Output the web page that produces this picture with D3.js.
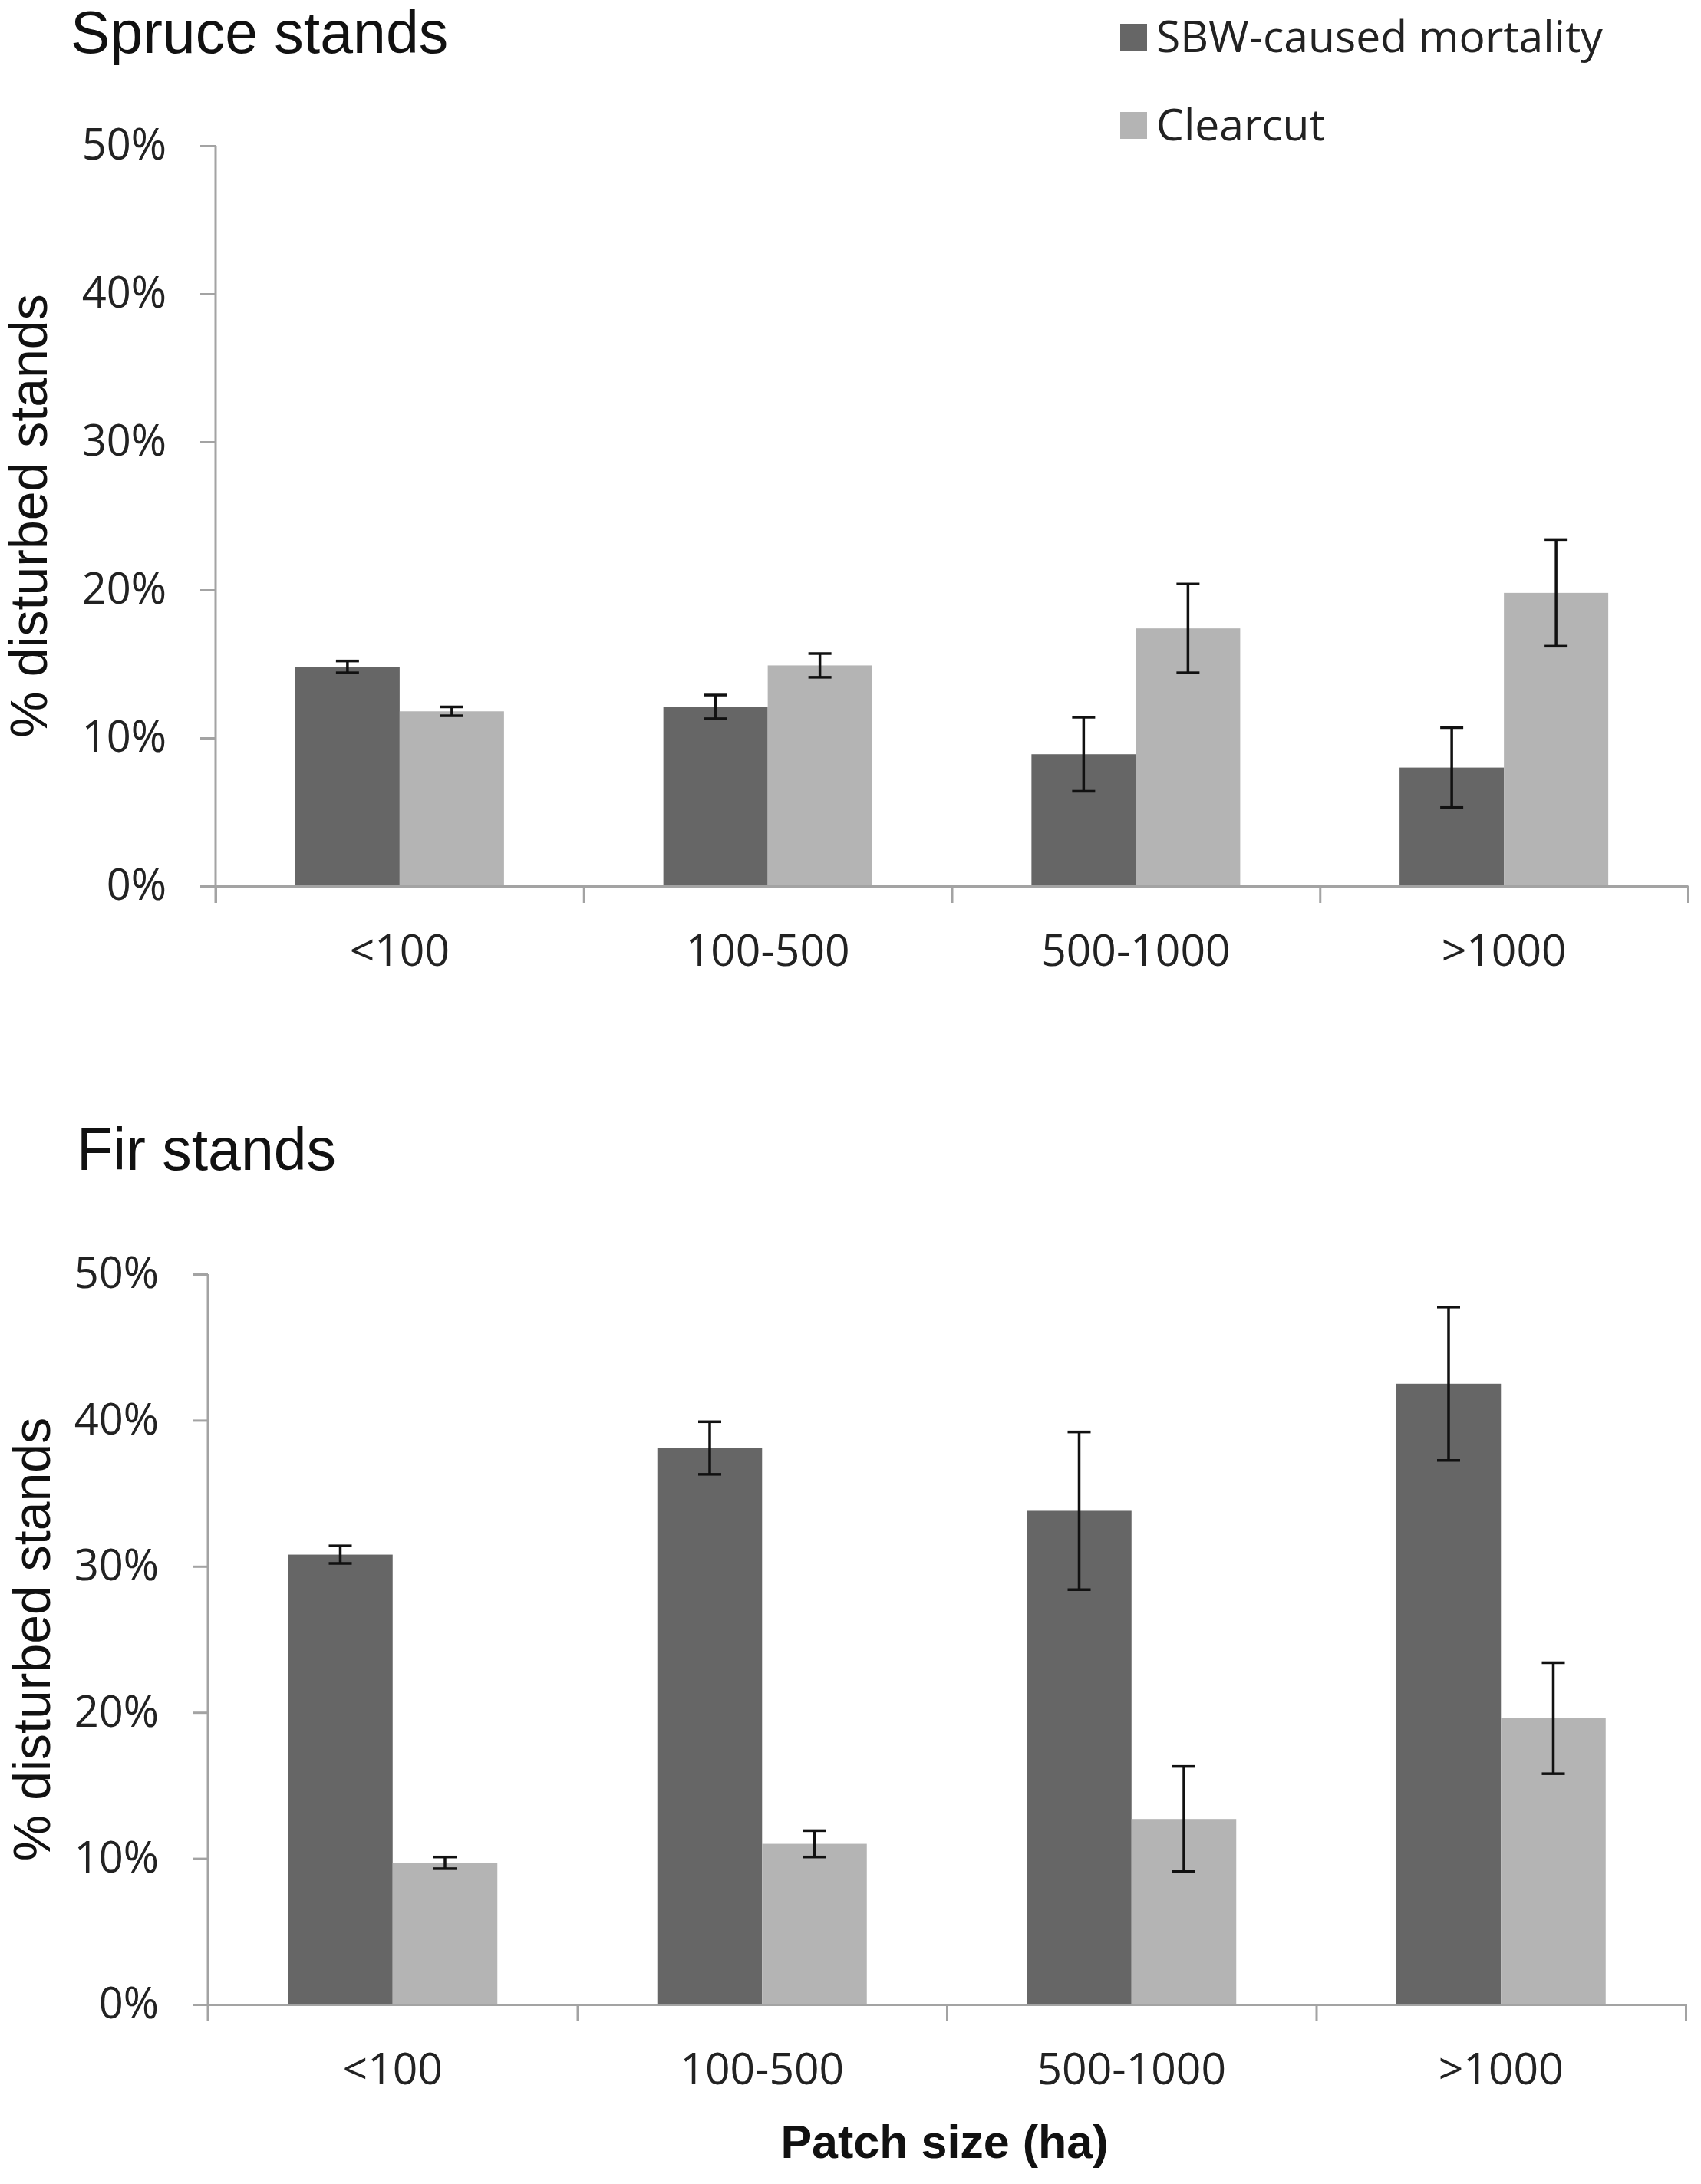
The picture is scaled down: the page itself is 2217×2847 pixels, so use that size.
<!DOCTYPE html>
<html>
<head>
<meta charset="utf-8">
<script src="https://cdn.jsdelivr.net/npm/d3@7/dist/d3.min.js"></script>
<style>
  html, body { margin: 0; padding: 0; background: #ffffff; }
  svg { display: block; }
</style>
</head>
<body>
<svg id="chart" width="2217" height="2847"></svg>
<script>
// ---------------- DATA ----------------
const categories = ["<100", "100-500", "500-1000", ">1000"];
const seriesNames = ["SBW-caused mortality", "Clearcut"];
const yTicks = [0, 10, 20, 30, 40, 50];

const spruceSBW      = [14.8, 12.1, 8.9, 8.0];
const spruceSBWErr   = [0.4, 0.8, 2.5, 2.7];
const spruceClear    = [11.8, 14.9, 17.4, 19.8];
const spruceClearErr = [0.3, 0.8, 3.0, 3.6];

const firSBW      = [30.8, 38.1, 33.8, 42.5];
const firSBWErr   = [0.6, 1.8, 5.4, 5.25];
const firClear    = [9.7, 11.0, 12.7, 19.6];
const firClearErr = [0.4, 0.9, 3.6, 3.8];

const panelTitles = ["Spruce stands", "Fir stands"];
const yAxisTitle = "% disturbed stands";
const xAxisTitle = "Patch size (ha)";

// ---------------- STYLE / LAYOUT ----------------
const colors = ["#666666", "#b4b4b4"];
const axisColor = "#a3a3a3";
const textColor = "#222222";

const panels = [
  { title: panelTitles[0], series: [spruceSBW, spruceClear], errs: [spruceSBWErr, spruceClearErr],
    x0: 281, x1: 2200, yBottom: 1155, yTop: 190, titleX: 92, titleY: 69, yLabelX: 61 },
  { title: panelTitles[1], series: [firSBW, firClear], errs: [firSBWErr, firClearErr],
    x0: 271, x1: 2197, yBottom: 2613, yTop: 1661, titleX: 100, titleY: 1525, yLabelX: 65 }
];

const svg = d3.select("#chart");
svg.append("rect").attr("width", 2217).attr("height", 2847).attr("fill", "#fff");

panels.forEach(p => {
  const g = svg.append("g");

  const x = d3.scaleBand().domain(categories).range([p.x0, p.x1]).padding(0);
  const barW = x.bandwidth() * 0.2835;
  const sub = d3.scaleBand().domain(d3.range(seriesNames.length))
    .range([-barW, barW]).padding(0);
  const y = d3.scaleLinear().domain([0, 50]).range([p.yBottom, p.yTop]);

  // Title
  g.append("text")
    .attr("x", p.titleX).attr("y", p.titleY)
    .attr("font-family", "Liberation Sans, Arial, sans-serif")
    .attr("font-size", 77).attr("fill", "#111")
    .text(p.title);

  // Y axis label
  g.append("text")
    .attr("transform", `translate(${p.yLabelX},${(p.yBottom + p.yTop) / 2}) rotate(-90)`)
    .attr("text-anchor", "middle")
    .attr("font-family", "Liberation Sans, Arial, sans-serif")
    .attr("font-size", 68).attr("fill", "#111")
    .text(yAxisTitle);

  // Bars
  p.series.forEach((vals, si) => {
    g.append("g").selectAll("rect")
      .data(vals)
      .join("rect")
      .attr("x", (d, i) => x(categories[i]) + x.bandwidth() / 2 + sub(si))
      .attr("width", sub.bandwidth())
      .attr("y", d => y(d))
      .attr("height", d => y(0) - y(d))
      .attr("fill", colors[si]);
  });

  // Error bars
  p.series.forEach((vals, si) => {
    const eg = g.append("g").attr("stroke", "#111").attr("stroke-width", 3.5);
    vals.forEach((v, i) => {
      const cx = x(categories[i]) + x.bandwidth() / 2 + sub(si) + sub.bandwidth() / 2;
      const e = p.errs[si][i];
      const capW = 15;
      eg.append("line").attr("x1", cx).attr("x2", cx).attr("y1", y(v + e)).attr("y2", y(v - e));
      eg.append("line").attr("x1", cx - capW).attr("x2", cx + capW).attr("y1", y(v + e)).attr("y2", y(v + e));
      eg.append("line").attr("x1", cx - capW).attr("x2", cx + capW).attr("y1", y(v - e)).attr("y2", y(v - e));
    });
  });

  // Y axis (ticks + labels)
  const yAxis = d3.axisLeft(y).tickValues(yTicks).tickFormat(d => d + "%")
    .tickSize(20).tickSizeOuter(0).tickPadding(44);
  const ya = g.append("g").attr("transform", `translate(${p.x0},0)`).call(yAxis);
  ya.select(".domain").remove();
  ya.selectAll(".tick line").attr("stroke", axisColor).attr("stroke-width", 3);
  ya.selectAll(".tick text")
    .attr("font-family", "Open Sans, sans-serif")
    .attr("font-size", 56).attr("fill", textColor);

  // Y axis line (extends below origin like the reference)
  g.append("line")
    .attr("x1", p.x0).attr("x2", p.x0)
    .attr("y1", y(50)).attr("y2", y(0) + 22)
    .attr("stroke", axisColor).attr("stroke-width", 3);

  // X axis: boundary ticks
  const xb = d3.scaleLinear().domain([0, categories.length]).range([p.x0, p.x1]);
  const xbAxis = d3.axisBottom(xb).tickValues(d3.range(0, categories.length + 1))
    .tickFormat("").tickSize(22).tickSizeOuter(0);
  const xba = g.append("g").attr("transform", `translate(0,${y(0)})`).call(xbAxis);
  xba.select(".domain").attr("stroke", axisColor).attr("stroke-width", 3);
  xba.selectAll(".tick line").attr("stroke", axisColor).attr("stroke-width", 3);

  // X axis: category labels
  const xAxis = d3.axisBottom(x).tickSize(0).tickPadding(0);
  const xa = g.append("g").attr("transform", `translate(0,${y(0)})`).call(xAxis);
  xa.select(".domain").remove();
  xa.selectAll(".tick text")
    .attr("font-family", "Open Sans, sans-serif")
    .attr("font-size", 57).attr("fill", textColor)
    .attr("dy", null)
    .attr("y", 104);
});

// Legend
const legend = svg.append("g");
const legendY = [31, 146];
seriesNames.forEach((name, i) => {
  legend.append("rect")
    .attr("x", 1460).attr("y", legendY[i]).attr("width", 35).attr("height", 35)
    .attr("fill", colors[i]);
  legend.append("text")
    .attr("x", 1507).attr("y", legendY[i] + 37)
    .attr("font-family", "Open Sans, sans-serif")
    .attr("font-size", 57).attr("fill", textColor)
    .text(name);
});

// X axis title
svg.append("text")
  .attr("x", 1231).attr("y", 2813)
  .attr("text-anchor", "middle")
  .attr("font-family", "Liberation Sans, Arial, sans-serif")
  .attr("font-weight", "bold")
  .attr("font-size", 61).attr("fill", "#111")
  .text(xAxisTitle);
</script>
</body>
</html>
